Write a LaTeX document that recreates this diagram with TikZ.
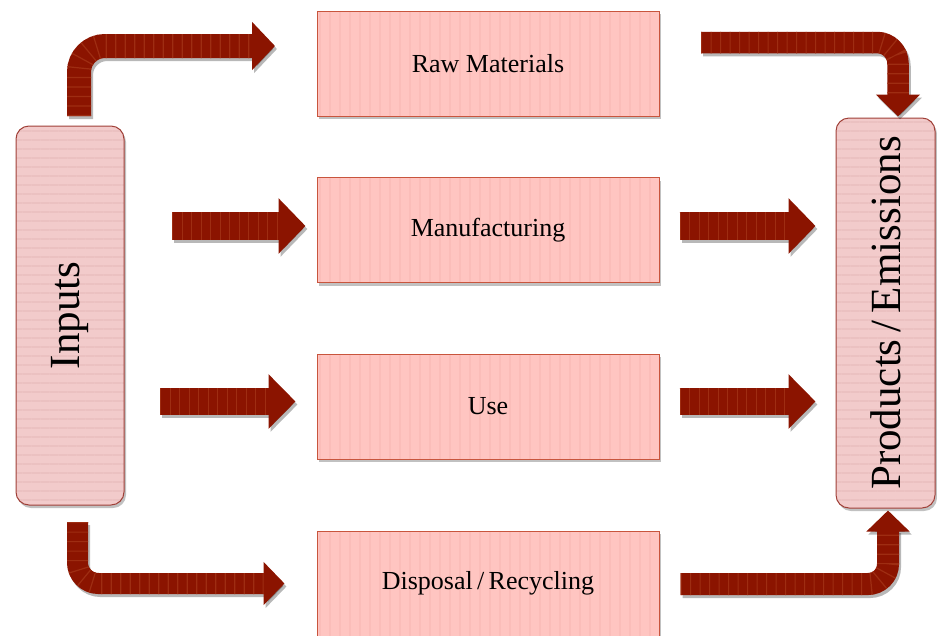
\documentclass[tikz,border=0pt]{standalone}
\usepackage{fontspec}
\usepackage{graphicx}
\setmainfont{Liberation Serif}
\usetikzlibrary{calc,arrows.meta,shadows,patterns.meta}
\definecolor{arrowred}{HTML}{8B1400}
\definecolor{arrowstripe}{HTML}{9E2D12}
\definecolor{boxfill}{HTML}{FFC5C1}
\definecolor{boxstripe}{HTML}{FBBDB9}
\definecolor{boxborder}{HTML}{C8553D}
\definecolor{rndfill}{HTML}{F2CBCB}
\definecolor{rndstripe}{HTML}{EBC1C1}
\definecolor{rndborder}{HTML}{A04038}
\tikzset{
  stage/.style={draw=boxborder, line width=1pt, minimum width=342pt, minimum height=105pt, inner sep=0pt,
    drop shadow={shadow xshift=2pt, shadow yshift=-3pt, opacity=0.35, fill=black!70},
    preaction={fill=boxfill},
    pattern={Lines[angle=90,distance=10pt,line width=2pt]}, pattern color=boxstripe,
    font=\fontsize{26}{30}\selectfont},
  side/.style={draw=rndborder, line width=1pt, rounded corners=13pt, inner sep=0pt,
    drop shadow={shadow xshift=2pt, shadow yshift=-3pt, opacity=0.35, fill=black!70},
    preaction={fill=rndfill},
    pattern={Lines[angle=0,distance=9pt,line width=2pt]}, pattern color=rndstripe,
    font=\fontsize{43}{50}\selectfont},
  arrshadow/.style={draw=black, opacity=0.28},
  arrbody/.style={draw=arrowred},
  arrstripe/.style={draw=arrowstripe, dash pattern=on 1.2pt off 8.3pt}
}
\newcommand\mkarrow[7]{%
  \draw[arrshadow, line width=#1, rounded corners=#2, -{Triangle[length=#3,width=#4]}] ($(#5)+(2,3)$) #6 ($(#7)+(2,3)$);
  \draw[arrbody, line width=#1, rounded corners=#2, -{Triangle[length=#3,width=#4]}] (#5) #6 (#7);
  \draw[arrstripe, line width=#1, rounded corners=#2, shorten >=#3] (#5) #6 (#7);
}
\begin{document}
\begin{tikzpicture}[x=1pt,y=-1pt]
\path[use as bounding box] (0,0) rectangle (937,635);
\clip (0,0) rectangle (937,635);

\node[stage] (raw)  at (488,63.5)  {Raw Materials};
\node[stage] (manu) at (488,230)   {Manufacturing};
\node[stage] (use)  at (488,406.5) {Use};
\node[stage] (disp) at (488,583.5) {Disposal\,/\,Recycling};
\node[side, minimum width=108pt, minimum height=379pt] (inputs) at (70,315.5) {\rotatebox{90}{Inputs}};
\node[side, minimum width=99pt, minimum height=390pt] (products) at (885.5,313) {\rotatebox{90}{Products\,/\,Emissions}};

% bent arrows
\coordinate (a1s) at ($(inputs.north)+(9,-9)$);
\coordinate (a1e) at ($(raw.west)+(-41,-17.5)$);
\mkarrow{24pt}{26pt}{23pt}{47pt}{a1s}{|-}{a1e}

\coordinate (a2s) at ($(raw.east)+(41,-21)$);
\coordinate (a2e) at ($(products.north)+(12.5,-1)$);
\mkarrow{21.5pt}{21pt}{22pt}{43pt}{a2s}{-|}{a2e}

\coordinate (a3s) at ($(inputs.south)+(7.5,16)$);
\coordinate (a3e) at ($(disp.west)+(-32,0)$);
\mkarrow{21pt}{21pt}{21pt}{42pt}{a3s}{|-}{a3e}

\coordinate (a4s) at ($(disp.east)+(21,0.5)$);
\coordinate (a4e) at ($(products.south)+(2.5,2)$);
\mkarrow{22pt}{20pt}{21pt}{42pt}{a4s}{-|}{a4e}

% straight arrows
\coordinate (s1s) at ($(inputs.east |- manu.west)+(47,-4)$);
\coordinate (s1e) at ($(manu.west)+(-11,-4)$);
\mkarrow{28pt}{0pt}{27pt}{54pt}{s1s}{--}{s1e}

\coordinate (s2s) at ($(manu.east)+(20,-4)$);
\coordinate (s2e) at ($(products.west |- manu.east)+(-20,-4)$);
\mkarrow{28pt}{0pt}{27pt}{54pt}{s2s}{--}{s2e}

\coordinate (s3s) at ($(inputs.east |- use.west)+(35,-5)$);
\coordinate (s3e) at ($(use.west)+(-21,-5)$);
\mkarrow{27pt}{0pt}{27pt}{53pt}{s3s}{--}{s3e}

\coordinate (s4s) at ($(use.east)+(20,-5)$);
\coordinate (s4e) at ($(products.west |- use.east)+(-20,-5)$);
\mkarrow{27pt}{0pt}{27pt}{53pt}{s4s}{--}{s4e}
\end{tikzpicture}
\end{document}
